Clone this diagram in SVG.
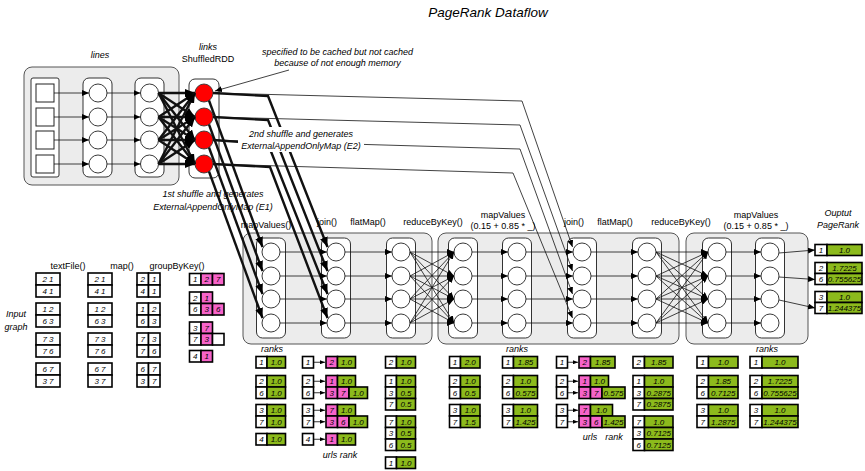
<svg xmlns="http://www.w3.org/2000/svg" width="865" height="471" viewBox="0 0 865 471">
<style>
text{font-family:"Liberation Sans",Arial,Helvetica,sans-serif;font-size:9px;fill:#000}
.i{font-style:italic}
.m{text-anchor:middle}
.panel{fill:#ececec;stroke:#555;stroke-width:1}
.col{fill:#fff;stroke:#333;stroke-width:1}
.nd{fill:#fff;stroke:#222;stroke-width:0.9}
.red{fill:#ff0000;stroke:#333;stroke-width:0.9}
.sq{fill:#fff;stroke:#222;stroke-width:1}
.c line,.c path{stroke:#111;fill:none}
.thin{stroke-width:0.8;marker-end:url(#ah)}
.thick{stroke-width:2.4;marker-end:url(#ahb)}
.tk{stroke-width:2.4}
.tn{stroke-width:0.8}
.tb rect{stroke:#000;stroke-width:1.6}
.w{fill:#fff}
.p{fill:#f763c9}
.g{fill:#8cba1c}
.tb text{font-size:8px;font-style:italic;text-anchor:middle}
.ta{stroke:#000;stroke-width:0.8;marker-end:url(#ahs)}
</style>
<defs>
<marker id="ah" markerUnits="userSpaceOnUse" markerWidth="7" markerHeight="6" refX="7" refY="3" orient="auto"><path d="M0,0 L7,3 L0,6 z" fill="#000"/></marker>
<marker id="ahb" markerUnits="userSpaceOnUse" markerWidth="10" markerHeight="8" refX="10" refY="4" orient="auto"><path d="M0,0 L10,4 L0,8 z" fill="#000"/></marker>
<marker id="ahs" markerUnits="userSpaceOnUse" markerWidth="5" markerHeight="4" refX="5" refY="2" orient="auto"><path d="M0,0 L5,2 L0,4 z" fill="#000"/></marker>
</defs>
<rect width="865" height="471" fill="#fff"/>

<text x="488" y="17" class="i m" style="font-size:13.5px">PageRank Dataflow</text>

<!-- lines stage -->
<g id="lines">
<rect x="24" y="67" width="155" height="118" rx="8" class="panel"/>
<rect x="31" y="78" width="28" height="99" rx="2" class="col"/>
<rect x="36" y="84" width="18" height="18" class="sq"/>
<rect x="36" y="108" width="18" height="18" class="sq"/>
<rect x="36" y="131" width="18" height="18" class="sq"/>
<rect x="36" y="155" width="18" height="18" class="sq"/>
<rect x="83" y="78" width="29" height="99" rx="6" class="col"/>
<circle cx="98" cy="93" r="9" class="nd"/><circle cx="98" cy="117" r="9" class="nd"/><circle cx="98" cy="140" r="9" class="nd"/><circle cx="98" cy="164" r="9" class="nd"/>
<rect x="135" y="78" width="29" height="99" rx="6" class="col"/>
<circle cx="149.5" cy="93" r="9" class="nd"/><circle cx="149.5" cy="117" r="9" class="nd"/><circle cx="149.5" cy="140" r="9" class="nd"/><circle cx="149.5" cy="164" r="9" class="nd"/>
<text x="100" y="58" class="i m">lines</text>
</g>
<g id="links">
<rect x="189" y="79" width="30" height="99" rx="6" class="col"/>
<circle cx="204" cy="93" r="9" class="red"/><circle cx="204" cy="117" r="9" class="red"/><circle cx="204" cy="140" r="9" class="red"/><circle cx="204" cy="164" r="9" class="red"/>
<text x="208" y="50" class="i m">links</text>
<text x="208" y="62" class="m">ShuffledRDD</text>
</g>

<!-- stage panels -->
<g id="stage1"><rect x="243" y="233" width="189" height="111" rx="8" class="panel"/></g>
<g id="stage2"><rect x="438" y="233" width="241" height="111" rx="8" class="panel"/></g>
<g id="stage3"><rect x="686" y="233" width="122" height="111" rx="8" class="panel"/></g>

<g id="mapValues1"><rect x="256.5" y="238" width="29" height="100" rx="6" class="col"/>
<circle cx="271" cy="252" r="9" class="nd"/><circle cx="271" cy="276" r="9" class="nd"/><circle cx="271" cy="299" r="9" class="nd"/><circle cx="271" cy="323" r="9" class="nd"/></g>
<g id="join1"><rect x="321.5" y="238" width="29" height="100" rx="6" class="col"/>
<circle cx="336" cy="252" r="9" class="nd"/><circle cx="336" cy="276" r="9" class="nd"/><circle cx="336" cy="299" r="9" class="nd"/><circle cx="336" cy="323" r="9" class="nd"/></g>
<g id="flatMap1"><rect x="386.5" y="238" width="29" height="100" rx="6" class="col"/>
<circle cx="401" cy="252" r="9" class="nd"/><circle cx="401" cy="276" r="9" class="nd"/><circle cx="401" cy="299" r="9" class="nd"/><circle cx="401" cy="323" r="9" class="nd"/></g>
<g id="reduceByKey1"><rect x="448.5" y="238" width="29" height="100" rx="6" class="col"/>
<circle cx="463" cy="252" r="9" class="nd"/><circle cx="463" cy="276" r="9" class="nd"/><circle cx="463" cy="299" r="9" class="nd"/><circle cx="463" cy="323" r="9" class="nd"/></g>
<g id="mapValues2"><rect x="502.5" y="238" width="29" height="100" rx="6" class="col"/>
<circle cx="517" cy="252" r="9" class="nd"/><circle cx="517" cy="276" r="9" class="nd"/><circle cx="517" cy="299" r="9" class="nd"/><circle cx="517" cy="323" r="9" class="nd"/></g>
<g id="join2"><rect x="567.5" y="238" width="29" height="100" rx="6" class="col"/>
<circle cx="582" cy="252" r="9" class="nd"/><circle cx="582" cy="276" r="9" class="nd"/><circle cx="582" cy="299" r="9" class="nd"/><circle cx="582" cy="323" r="9" class="nd"/></g>
<g id="flatMap2"><rect x="632.5" y="238" width="29" height="100" rx="6" class="col"/>
<circle cx="647" cy="252" r="9" class="nd"/><circle cx="647" cy="276" r="9" class="nd"/><circle cx="647" cy="299" r="9" class="nd"/><circle cx="647" cy="323" r="9" class="nd"/></g>
<g id="reduceByKey2"><rect x="702.5" y="238" width="29" height="100" rx="6" class="col"/>
<circle cx="717" cy="252" r="9" class="nd"/><circle cx="717" cy="276" r="9" class="nd"/><circle cx="717" cy="299" r="9" class="nd"/><circle cx="717" cy="323" r="9" class="nd"/></g>
<g id="mapValues3"><rect x="755.5" y="238" width="29" height="100" rx="6" class="col"/>
<circle cx="770" cy="252" r="9" class="nd"/><circle cx="770" cy="276" r="9" class="nd"/><circle cx="770" cy="299" r="9" class="nd"/><circle cx="770" cy="323" r="9" class="nd"/></g>

<!-- connectors -->
<g id="connectors" class="c">
<line x1="54" y1="93" x2="89" y2="93" class="thin"/><line x1="54" y1="117" x2="89" y2="117" class="thin"/><line x1="54" y1="140" x2="89" y2="140" class="thin"/><line x1="54" y1="164" x2="89" y2="164" class="thin"/>
<line x1="107" y1="93" x2="140.5" y2="93" class="thin"/><line x1="107" y1="117" x2="140.5" y2="117" class="thin"/><line x1="107" y1="140" x2="140.5" y2="140" class="thin"/><line x1="107" y1="164" x2="140.5" y2="164" class="thin"/>
<line x1="158.5" y1="93" x2="195" y2="93" class="thick"/><line x1="158.5" y1="93" x2="195" y2="117" class="thick"/><line x1="158.5" y1="93" x2="195" y2="140" class="thick"/><line x1="158.5" y1="93" x2="195" y2="164" class="thick"/>
<line x1="158.5" y1="117" x2="195" y2="93" class="thick"/><line x1="158.5" y1="117" x2="195" y2="117" class="thick"/><line x1="158.5" y1="117" x2="195" y2="140" class="thick"/><line x1="158.5" y1="117" x2="195" y2="164" class="thick"/>
<line x1="158.5" y1="140" x2="195" y2="93" class="thick"/><line x1="158.5" y1="140" x2="195" y2="117" class="thick"/><line x1="158.5" y1="140" x2="195" y2="140" class="thick"/><line x1="158.5" y1="140" x2="195" y2="164" class="thick"/>
<line x1="158.5" y1="164" x2="195" y2="93" class="thick"/><line x1="158.5" y1="164" x2="195" y2="117" class="thick"/><line x1="158.5" y1="164" x2="195" y2="140" class="thick"/><line x1="158.5" y1="164" x2="195" y2="164" class="thick"/>

<path d="M289,70 L215,91" class="thin"/>

<path d="M213,93 L522,101 L572.5,247" class="thin"/>
<path d="M213,117 L520,125 L572.5,271" class="thin"/>
<path d="M213,140 L520,149 L572.5,294" class="thin"/>
<path d="M213,164 L513,173 L572.5,318" class="thin"/>

<path d="M209,100.5 L262.5,247" class="thick"/>
<path d="M209,124.5 L262.5,271" class="thick"/>
<path d="M209,147.5 L262.5,294" class="thick"/>
<path d="M209,171.5 L262.5,318" class="thick"/>

<path d="M213,93 L268,96 L327.5,247" class="thick"/>
<path d="M213,117 L268,120 L327.5,271" class="thick"/>
<path d="M213,140 L268,144 L327.5,294" class="thick"/>
<path d="M213,164 L270,167 L327.5,318" class="thick"/>

<line x1="280" y1="252" x2="327" y2="252" class="thin"/><line x1="280" y1="276" x2="327" y2="276" class="thin"/><line x1="280" y1="299" x2="327" y2="299" class="thin"/><line x1="280" y1="323" x2="327" y2="323" class="thin"/>
<line x1="345" y1="252" x2="392" y2="252" class="thin"/><line x1="345" y1="276" x2="392" y2="276" class="thin"/><line x1="345" y1="299" x2="392" y2="299" class="thin"/><line x1="345" y1="323" x2="392" y2="323" class="thin"/>
<line x1="410" y1="252" x2="454" y2="252" class="thin"/><line x1="410" y1="252" x2="454" y2="276" class="thin"/><line x1="410" y1="252" x2="454" y2="299" class="thin"/><line x1="410" y1="252" x2="454" y2="323" class="thin"/>
<line x1="410" y1="276" x2="454" y2="252" class="thin"/><line x1="410" y1="276" x2="454" y2="276" class="thin"/><line x1="410" y1="276" x2="454" y2="299" class="thin"/><line x1="410" y1="276" x2="454" y2="323" class="thin"/>
<line x1="410" y1="299" x2="454" y2="252" class="thin"/><line x1="410" y1="299" x2="454" y2="276" class="thin"/><line x1="410" y1="299" x2="454" y2="299" class="thin"/><line x1="410" y1="299" x2="454" y2="323" class="thin"/>
<line x1="410" y1="323" x2="454" y2="252" class="thin"/><line x1="410" y1="323" x2="454" y2="276" class="thin"/><line x1="410" y1="323" x2="454" y2="299" class="thin"/><line x1="410" y1="323" x2="454" y2="323" class="thin"/>
<line x1="472" y1="252" x2="508" y2="252" class="thin"/><line x1="472" y1="276" x2="508" y2="276" class="thin"/><line x1="472" y1="299" x2="508" y2="299" class="thin"/><line x1="472" y1="323" x2="508" y2="323" class="thin"/>
<line x1="526" y1="252" x2="573" y2="252" class="thin"/><line x1="526" y1="276" x2="573" y2="276" class="thin"/><line x1="526" y1="299" x2="573" y2="299" class="thin"/><line x1="526" y1="323" x2="573" y2="323" class="thin"/>
<line x1="591" y1="252" x2="638" y2="252" class="thin"/><line x1="591" y1="276" x2="638" y2="276" class="thin"/><line x1="591" y1="299" x2="638" y2="299" class="thin"/><line x1="591" y1="323" x2="638" y2="323" class="thin"/>
<line x1="656" y1="252" x2="708" y2="252" class="thin"/><line x1="656" y1="252" x2="708" y2="276" class="thin"/><line x1="656" y1="252" x2="708" y2="299" class="thin"/><line x1="656" y1="252" x2="708" y2="323" class="thin"/>
<line x1="656" y1="276" x2="708" y2="252" class="thin"/><line x1="656" y1="276" x2="708" y2="276" class="thin"/><line x1="656" y1="276" x2="708" y2="299" class="thin"/><line x1="656" y1="276" x2="708" y2="323" class="thin"/>
<line x1="656" y1="299" x2="708" y2="252" class="thin"/><line x1="656" y1="299" x2="708" y2="276" class="thin"/><line x1="656" y1="299" x2="708" y2="299" class="thin"/><line x1="656" y1="299" x2="708" y2="323" class="thin"/>
<line x1="656" y1="323" x2="708" y2="252" class="thin"/><line x1="656" y1="323" x2="708" y2="276" class="thin"/><line x1="656" y1="323" x2="708" y2="299" class="thin"/><line x1="656" y1="323" x2="708" y2="323" class="thin"/>
<line x1="726" y1="252" x2="761" y2="252" class="thin"/><line x1="726" y1="276" x2="761" y2="276" class="thin"/><line x1="726" y1="299" x2="761" y2="299" class="thin"/><line x1="726" y1="323" x2="761" y2="323" class="thin"/>
<line x1="779" y1="253" x2="815" y2="250" class="thin"/>
<line x1="779" y1="277" x2="815" y2="279.5" class="thin"/>
<line x1="779" y1="300" x2="815" y2="308" class="thin"/>
</g>

<!-- labels -->
<g id="label-cache">
<text x="337.5" y="55" class="i m">specified to be cached but not cached</text>
<text x="337.5" y="66" class="i m">because of not enough memory</text>
</g>
<g id="label-e2">
<rect x="238" y="127" width="126" height="25" fill="#fff"/>
<text x="301" y="137" class="i m">2nd shuffle and generates</text>
<text x="301" y="149" class="i m">ExternalAppendOnlyMap (E2)</text>
</g>
<g id="label-e1">
<text x="213" y="197" class="i m">1st shuffle and generates</text>
<text x="213" y="210" class="i m">ExternalAppendOnlyMap (E1)</text>
</g>
<g id="headers">
<text x="266" y="228" class="m">mapValues()</text>
<text x="327" y="225" class="m">join()</text>
<text x="368" y="225" class="m">flatMap()</text>
<text x="433" y="225" class="m">reduceByKey()</text>
<text x="503" y="218" class="m">mapValues</text>
<text x="503" y="229" class="m">(0.15 + 0.85 * _)</text>
<text x="574" y="225" class="m">join()</text>
<text x="615" y="225" class="m">flatMap()</text>
<text x="681" y="225" class="m">reduceByKey()</text>
<text x="756" y="218" class="m">mapValues</text>
<text x="756" y="229" class="m">(0.15 + 0.85 * _)</text>
<text x="838" y="216" class="i m">Ouptut</text>
<text x="838" y="228" class="i m">PageRank</text>
<text x="68" y="269" class="m">textFile()</text>
<text x="122" y="269" class="m">map()</text>
<text x="177" y="269" class="m">groupByKey()</text>
<text x="16" y="317" class="i m">Input</text>
<text x="16" y="330" class="i m">graph</text>
<text x="272" y="352" class="i m">ranks</text>
<text x="517" y="352" class="i m">ranks</text>
<text x="767" y="352" class="i m">ranks</text>
<text x="340" y="458" class="i m">urls rank</text>
<text x="590" y="440" class="i m">urls</text>
<text x="614" y="440" class="i m">rank</text>
</g>

<!-- input tables -->
<g id="textFile-tables" class="tb">
<rect x="36" y="273" width="24" height="12" class="w"/><text x="48" y="281.8">2 1</text>
<rect x="36" y="285" width="24" height="12" class="w"/><text x="48" y="293.8">4 1</text>
<rect x="36" y="303" width="24" height="12" class="w"/><text x="48" y="311.8">1 2</text>
<rect x="36" y="315" width="24" height="12" class="w"/><text x="48" y="323.8">6 3</text>
<rect x="36" y="333" width="24" height="12" class="w"/><text x="48" y="341.8">7 3</text>
<rect x="36" y="345" width="24" height="12" class="w"/><text x="48" y="353.8">7 6</text>
<rect x="36" y="363" width="24" height="12" class="w"/><text x="48" y="371.8">6 7</text>
<rect x="36" y="375" width="24" height="12" class="w"/><text x="48" y="383.8">3 7</text>
</g>
<g id="map-tables" class="tb">
<rect x="88" y="273" width="24" height="12" class="w"/><text x="100" y="281.8">2 1</text>
<rect x="88" y="285" width="24" height="12" class="w"/><text x="100" y="293.8">4 1</text>
<rect x="88" y="303" width="24" height="12" class="w"/><text x="100" y="311.8">1 2</text>
<rect x="88" y="315" width="24" height="12" class="w"/><text x="100" y="323.8">6 3</text>
<rect x="88" y="333" width="24" height="12" class="w"/><text x="100" y="341.8">7 3</text>
<rect x="88" y="345" width="24" height="12" class="w"/><text x="100" y="353.8">7 6</text>
<rect x="88" y="363" width="24" height="12" class="w"/><text x="100" y="371.8">6 7</text>
<rect x="88" y="375" width="24" height="12" class="w"/><text x="100" y="383.8">3 7</text>
</g>
<g id="groupByKey-in" class="tb">
<rect x="137" y="273" width="11.5" height="12" class="w"/><rect x="148.5" y="273" width="11.5" height="12" class="w"/><text x="142.75" y="281.8">2</text><text x="154.25" y="281.8">1</text>
<rect x="137" y="285" width="11.5" height="12" class="w"/><rect x="148.5" y="285" width="11.5" height="12" class="w"/><text x="142.75" y="293.8">4</text><text x="154.25" y="293.8">1</text>
<rect x="137" y="303" width="11.5" height="12" class="w"/><rect x="148.5" y="303" width="11.5" height="12" class="w"/><text x="142.75" y="311.8">1</text><text x="154.25" y="311.8">2</text>
<rect x="137" y="315" width="11.5" height="12" class="w"/><rect x="148.5" y="315" width="11.5" height="12" class="w"/><text x="142.75" y="323.8">6</text><text x="154.25" y="323.8">3</text>
<rect x="137" y="333" width="11.5" height="12" class="w"/><rect x="148.5" y="333" width="11.5" height="12" class="w"/><text x="142.75" y="341.8">7</text><text x="154.25" y="341.8">3</text>
<rect x="137" y="345" width="11.5" height="12" class="w"/><rect x="148.5" y="345" width="11.5" height="12" class="w"/><text x="142.75" y="353.8">7</text><text x="154.25" y="353.8">6</text>
<rect x="137" y="363" width="11.5" height="12" class="w"/><rect x="148.5" y="363" width="11.5" height="12" class="w"/><text x="142.75" y="371.8">6</text><text x="154.25" y="371.8">7</text>
<rect x="137" y="375" width="11.5" height="12" class="w"/><rect x="148.5" y="375" width="11.5" height="12" class="w"/><text x="142.75" y="383.8">3</text><text x="154.25" y="383.8">7</text>
</g>
<g id="groupByKey-out" class="tb">
<rect x="189.5" y="273.5" width="11.5" height="11.5" class="w"/><rect x="201" y="273.5" width="11.5" height="11.5" class="p"/><rect x="212.5" y="273.5" width="11.5" height="11.5" class="p"/>
<text x="195.25" y="282">1</text><text x="206.75" y="282">2</text><text x="218.25" y="282">7</text>
<rect x="189.5" y="292" width="11.5" height="11.5" class="w"/><rect x="201" y="292" width="11.5" height="11.5" class="p"/>
<text x="195.25" y="300.5">2</text><text x="206.75" y="300.5">1</text>
<rect x="189.5" y="303.5" width="11.5" height="11.5" class="w"/><rect x="201" y="303.5" width="11.5" height="11.5" class="p"/><rect x="212.5" y="303.5" width="11.5" height="11.5" class="p"/>
<text x="195.25" y="312">6</text><text x="206.75" y="312">3</text><text x="218.25" y="312">6</text>
<rect x="189.5" y="322" width="11.5" height="11.5" class="w"/><rect x="201" y="322" width="11.5" height="11.5" class="p"/>
<text x="195.25" y="330.5">3</text><text x="206.75" y="330.5">7</text>
<rect x="189.5" y="333.5" width="11.5" height="11.5" class="w"/><rect x="201" y="333.5" width="11.5" height="11.5" class="p"/><rect x="212.5" y="333.5" width="11.5" height="11.5" class="w"/>
<text x="195.25" y="342">7</text><text x="206.75" y="342">3</text>
<rect x="189.5" y="350.5" width="11.5" height="11.5" class="w"/><rect x="201" y="350.5" width="11.5" height="11.5" class="p"/>
<text x="195.25" y="359">4</text><text x="206.75" y="359">1</text>
</g>

<!-- ranks 1 -->
<g id="ranks1" class="tb">
<rect x="256" y="356.5" width="11" height="11.5" class="w"/><rect x="267" y="356.5" width="18.5" height="11.5" class="g"/><text x="261.5" y="365">1</text><text x="276.25" y="365">1.0</text>
<rect x="256" y="375.5" width="11" height="11.5" class="w"/><rect x="267" y="375.5" width="18.5" height="11.5" class="g"/><text x="261.5" y="384">2</text><text x="276.25" y="384">1.0</text>
<rect x="256" y="387" width="11" height="11.5" class="w"/><rect x="267" y="387" width="18.5" height="11.5" class="g"/><text x="261.5" y="395.5">6</text><text x="276.25" y="395.5">1.0</text>
<rect x="256" y="404.5" width="11" height="11.5" class="w"/><rect x="267" y="404.5" width="18.5" height="11.5" class="g"/><text x="261.5" y="413">3</text><text x="276.25" y="413">1.0</text>
<rect x="256" y="416" width="11" height="11.5" class="w"/><rect x="267" y="416" width="18.5" height="11.5" class="g"/><text x="261.5" y="424.5">7</text><text x="276.25" y="424.5">1.0</text>
<rect x="256" y="433.5" width="11" height="11.5" class="w"/><rect x="267" y="433.5" width="18.5" height="11.5" class="g"/><text x="261.5" y="442">4</text><text x="276.25" y="442">1.0</text>
</g>
<!-- join 1 -->
<g id="join1-tables" class="tb">
<rect x="302.5" y="356.5" width="11" height="11.5" class="w"/><text x="308" y="365">1</text>
<rect x="326" y="356.5" width="11.5" height="11.5" class="p"/><rect x="337.5" y="356.5" width="18" height="11.5" class="g"/><text x="331.75" y="365">2</text><text x="346.5" y="365">1.0</text>
<rect x="302.5" y="375.5" width="11" height="11.5" class="w"/><text x="308" y="384">2</text>
<rect x="302.5" y="387" width="11" height="11.5" class="w"/><text x="308" y="395.5">6</text>
<rect x="326" y="375.5" width="11.5" height="11.5" class="p"/><rect x="337.5" y="375.5" width="18" height="11.5" class="g"/><text x="331.75" y="384">1</text><text x="346.5" y="384">1.0</text>
<rect x="326" y="387" width="11.5" height="11.5" class="p"/><rect x="337.5" y="387" width="11.5" height="11.5" class="p"/><rect x="349" y="387" width="18.5" height="11.5" class="g"/><text x="331.75" y="395.5">3</text><text x="343.25" y="395.5">7</text><text x="358.25" y="395.5">1.0</text>
<rect x="302.5" y="404.5" width="11" height="11.5" class="w"/><text x="308" y="413">3</text>
<rect x="302.5" y="416" width="11" height="11.5" class="w"/><text x="308" y="424.5">7</text>
<rect x="326" y="404.5" width="11.5" height="11.5" class="p"/><rect x="337.5" y="404.5" width="18" height="11.5" class="g"/><text x="331.75" y="413">7</text><text x="346.5" y="413">1.0</text>
<rect x="326" y="416" width="11.5" height="11.5" class="p"/><rect x="337.5" y="416" width="11.5" height="11.5" class="p"/><rect x="349" y="416" width="18.5" height="11.5" class="g"/><text x="331.75" y="424.5">3</text><text x="343.25" y="424.5">6</text><text x="358.25" y="424.5">1.0</text>
<rect x="302.5" y="433.5" width="11" height="11.5" class="w"/><text x="308" y="442">4</text>
<rect x="326" y="433.5" width="11.5" height="11.5" class="p"/><rect x="337.5" y="433.5" width="18" height="11.5" class="g"/><text x="331.75" y="442">1</text><text x="346.5" y="442">1.0</text>
<line x1="314" y1="362.25" x2="325" y2="362.25" class="ta"/>
<line x1="314" y1="381.25" x2="325" y2="381.25" class="ta"/>
<line x1="314" y1="392.75" x2="325" y2="392.75" class="ta"/>
<line x1="314" y1="410.25" x2="325" y2="410.25" class="ta"/>
<line x1="314" y1="421.75" x2="325" y2="421.75" class="ta"/>
<line x1="314" y1="439.25" x2="325" y2="439.25" class="ta"/>
</g>
<!-- flatMap 1 -->
<g id="flatMap1-tables" class="tb">
<rect x="385.5" y="356.5" width="11" height="11.5" class="w"/><rect x="396.5" y="356.5" width="19" height="11.5" class="g"/><text x="391" y="365">2</text><text x="406" y="365">1.0</text>
<rect x="385.5" y="375.5" width="11" height="11.5" class="w"/><rect x="396.5" y="375.5" width="19" height="11.5" class="g"/><text x="391" y="384">1</text><text x="406" y="384">1.0</text>
<rect x="385.5" y="387" width="11" height="11.5" class="w"/><rect x="396.5" y="387" width="19" height="11.5" class="g"/><text x="391" y="395.5">3</text><text x="406" y="395.5">0.5</text>
<rect x="385.5" y="398.5" width="11" height="11.5" class="w"/><rect x="396.5" y="398.5" width="19" height="11.5" class="g"/><text x="391" y="407">7</text><text x="406" y="407">0.5</text>
<rect x="385.5" y="416" width="11" height="11.5" class="w"/><rect x="396.5" y="416" width="19" height="11.5" class="g"/><text x="391" y="424.5">7</text><text x="406" y="424.5">1.0</text>
<rect x="385.5" y="427.5" width="11" height="11.5" class="w"/><rect x="396.5" y="427.5" width="19" height="11.5" class="g"/><text x="391" y="436">3</text><text x="406" y="436">0.5</text>
<rect x="385.5" y="439" width="11" height="11.5" class="w"/><rect x="396.5" y="439" width="19" height="11.5" class="g"/><text x="391" y="447.5">6</text><text x="406" y="447.5">0.5</text>
<rect x="385.5" y="457" width="11" height="11.5" class="w"/><rect x="396.5" y="457" width="19" height="11.5" class="g"/><text x="391" y="465.5">1</text><text x="406" y="465.5">1.0</text>
</g>
<!-- reduceByKey 1 -->
<g id="reduceByKey1-tables" class="tb">
<rect x="449.5" y="356.5" width="11" height="11.5" class="w"/><rect x="460.5" y="356.5" width="19.5" height="11.5" class="g"/><text x="455" y="365">1</text><text x="470.25" y="365">2.0</text>
<rect x="449.5" y="375.5" width="11" height="11.5" class="w"/><rect x="460.5" y="375.5" width="19.5" height="11.5" class="g"/><text x="455" y="384">2</text><text x="470.25" y="384">1.0</text>
<rect x="449.5" y="387" width="11" height="11.5" class="w"/><rect x="460.5" y="387" width="19.5" height="11.5" class="g"/><text x="455" y="395.5">6</text><text x="470.25" y="395.5">0.5</text>
<rect x="449.5" y="404.5" width="11" height="11.5" class="w"/><rect x="460.5" y="404.5" width="19.5" height="11.5" class="g"/><text x="455" y="413">3</text><text x="470.25" y="413">1.0</text>
<rect x="449.5" y="416" width="11" height="11.5" class="w"/><rect x="460.5" y="416" width="19.5" height="11.5" class="g"/><text x="455" y="424.5">7</text><text x="470.25" y="424.5">1.5</text>
</g>
<!-- ranks 2 -->
<g id="ranks2" class="tb">
<rect x="502.5" y="356.5" width="11" height="11.5" class="w"/><rect x="513.5" y="356.5" width="24" height="11.5" class="g"/><text x="508" y="365">1</text><text x="525.5" y="365">1.85</text>
<rect x="502.5" y="375.5" width="11" height="11.5" class="w"/><rect x="513.5" y="375.5" width="24" height="11.5" class="g"/><text x="508" y="384">2</text><text x="525.5" y="384">1.0</text>
<rect x="502.5" y="387" width="11" height="11.5" class="w"/><rect x="513.5" y="387" width="24" height="11.5" class="g"/><text x="508" y="395.5">6</text><text x="525.5" y="395.5">0.575</text>
<rect x="502.5" y="404.5" width="11" height="11.5" class="w"/><rect x="513.5" y="404.5" width="24" height="11.5" class="g"/><text x="508" y="413">3</text><text x="525.5" y="413">1.0</text>
<rect x="502.5" y="416" width="11" height="11.5" class="w"/><rect x="513.5" y="416" width="24" height="11.5" class="g"/><text x="508" y="424.5">7</text><text x="525.5" y="424.5">1.425</text>
</g>
<!-- join 2 -->
<g id="join2-tables" class="tb">
<rect x="556.5" y="356.5" width="11" height="11.5" class="w"/><text x="562" y="365">1</text>
<rect x="579" y="356.5" width="11.5" height="11.5" class="p"/><rect x="590.5" y="356.5" width="24.5" height="11.5" class="g"/><text x="584.75" y="365">2</text><text x="602.75" y="365">1.85</text>
<rect x="556.5" y="375.5" width="11" height="11.5" class="w"/><text x="562" y="384">2</text>
<rect x="556.5" y="387" width="11" height="11.5" class="w"/><text x="562" y="395.5">6</text>
<rect x="579" y="375.5" width="11.5" height="11.5" class="p"/><rect x="590.5" y="375.5" width="18" height="11.5" class="g"/><text x="584.75" y="384">1</text><text x="599.5" y="384">1.0</text>
<rect x="579" y="387" width="11.5" height="11.5" class="p"/><rect x="590.5" y="387" width="11.5" height="11.5" class="p"/><rect x="602" y="387" width="23" height="11.5" class="g"/><text x="584.75" y="395.5">3</text><text x="596.25" y="395.5">7</text><text x="613.5" y="395.5">0.575</text>
<rect x="556.5" y="404.5" width="11" height="11.5" class="w"/><text x="562" y="413">3</text>
<rect x="556.5" y="416" width="11" height="11.5" class="w"/><text x="562" y="424.5">7</text>
<rect x="579" y="404.5" width="11.5" height="11.5" class="p"/><rect x="590.5" y="404.5" width="22" height="11.5" class="g"/><text x="584.75" y="413">7</text><text x="601.5" y="413">1.0</text>
<rect x="579" y="416" width="11.5" height="11.5" class="p"/><rect x="590.5" y="416" width="11.5" height="11.5" class="p"/><rect x="602" y="416" width="23" height="11.5" class="g"/><text x="584.75" y="424.5">3</text><text x="596.25" y="424.5">6</text><text x="613.5" y="424.5">1.425</text>
<line x1="568" y1="362.25" x2="578" y2="362.25" class="ta"/>
<line x1="568" y1="381.25" x2="578" y2="381.25" class="ta"/>
<line x1="568" y1="392.75" x2="578" y2="392.75" class="ta"/>
<line x1="568" y1="410.25" x2="578" y2="410.25" class="ta"/>
<line x1="568" y1="421.75" x2="578" y2="421.75" class="ta"/>
</g>
<!-- flatMap 2 -->
<g id="flatMap2-tables" class="tb">
<rect x="633" y="356.5" width="11.5" height="11.5" class="w"/><rect x="644.5" y="356.5" width="28.5" height="11.5" class="g"/><text x="638.75" y="365">2</text><text x="658.75" y="365">1.85</text>
<rect x="633" y="375.5" width="11.5" height="11.5" class="w"/><rect x="644.5" y="375.5" width="28.5" height="11.5" class="g"/><text x="638.75" y="384">1</text><text x="658.75" y="384">1.0</text>
<rect x="633" y="387" width="11.5" height="11.5" class="w"/><rect x="644.5" y="387" width="28.5" height="11.5" class="g"/><text x="638.75" y="395.5">3</text><text x="658.75" y="395.5">0.2875</text>
<rect x="633" y="398.5" width="11.5" height="11.5" class="w"/><rect x="644.5" y="398.5" width="28.5" height="11.5" class="g"/><text x="638.75" y="407">7</text><text x="658.75" y="407">0.2875</text>
<rect x="633" y="416" width="11.5" height="11.5" class="w"/><rect x="644.5" y="416" width="28.5" height="11.5" class="g"/><text x="638.75" y="424.5">7</text><text x="658.75" y="424.5">1.0</text>
<rect x="633" y="427.5" width="11.5" height="11.5" class="w"/><rect x="644.5" y="427.5" width="28.5" height="11.5" class="g"/><text x="638.75" y="436">3</text><text x="658.75" y="436">0.7125</text>
<rect x="633" y="439" width="11.5" height="11.5" class="w"/><rect x="644.5" y="439" width="28.5" height="11.5" class="g"/><text x="638.75" y="447.5">6</text><text x="658.75" y="447.5">0.7125</text>
</g>
<!-- reduceByKey 2 -->
<g id="reduceByKey2-tables" class="tb">
<rect x="697" y="356.5" width="11.5" height="11.5" class="w"/><rect x="708.5" y="356.5" width="29.5" height="11.5" class="g"/><text x="702.75" y="365">1</text><text x="723.25" y="365">1.0</text>
<rect x="697" y="375.5" width="11.5" height="11.5" class="w"/><rect x="708.5" y="375.5" width="29.5" height="11.5" class="g"/><text x="702.75" y="384">2</text><text x="723.25" y="384">1.85</text>
<rect x="697" y="387" width="11.5" height="11.5" class="w"/><rect x="708.5" y="387" width="29.5" height="11.5" class="g"/><text x="702.75" y="395.5">6</text><text x="723.25" y="395.5">0.7125</text>
<rect x="697" y="404.5" width="11.5" height="11.5" class="w"/><rect x="708.5" y="404.5" width="29.5" height="11.5" class="g"/><text x="702.75" y="413">3</text><text x="723.25" y="413">1.0</text>
<rect x="697" y="416" width="11.5" height="11.5" class="w"/><rect x="708.5" y="416" width="29.5" height="11.5" class="g"/><text x="702.75" y="424.5">7</text><text x="723.25" y="424.5">1.2875</text>
</g>
<!-- ranks 3 -->
<g id="ranks3" class="tb">
<rect x="750" y="356.5" width="12" height="11.5" class="w"/><rect x="762" y="356.5" width="36" height="11.5" class="g"/><text x="756" y="365">1</text><text x="780" y="365">1.0</text>
<rect x="750" y="375.5" width="12" height="11.5" class="w"/><rect x="762" y="375.5" width="36" height="11.5" class="g"/><text x="756" y="384">2</text><text x="780" y="384">1.7225</text>
<rect x="750" y="387" width="12" height="11.5" class="w"/><rect x="762" y="387" width="36" height="11.5" class="g"/><text x="756" y="395.5">6</text><text x="780" y="395.5">0.755625</text>
<rect x="750" y="404.5" width="12" height="11.5" class="w"/><rect x="762" y="404.5" width="36" height="11.5" class="g"/><text x="756" y="413">3</text><text x="780" y="413">1.0</text>
<rect x="750" y="416" width="12" height="11.5" class="w"/><rect x="762" y="416" width="36" height="11.5" class="g"/><text x="756" y="424.5">7</text><text x="780" y="424.5">1.244375</text>
</g>
<!-- output -->
<g id="output" class="tb">
<rect x="815" y="244.5" width="12" height="11" class="w"/><rect x="827" y="244.5" width="35" height="11" class="g"/><text x="821" y="252.7">1</text><text x="844.5" y="252.7">1.0</text>
<rect x="815" y="262.5" width="12" height="11" class="w"/><rect x="827" y="262.5" width="35" height="11" class="g"/><text x="821" y="270.7">2</text><text x="844.5" y="270.7">1.7225</text>
<rect x="815" y="273.5" width="12" height="11" class="w"/><rect x="827" y="273.5" width="35" height="11" class="g"/><text x="821" y="281.7">6</text><text x="844.5" y="281.7">0.755625</text>
<rect x="815" y="291.5" width="12" height="11" class="w"/><rect x="827" y="291.5" width="35" height="11" class="g"/><text x="821" y="299.7">3</text><text x="844.5" y="299.7">1.0</text>
<rect x="815" y="302.5" width="12" height="11" class="w"/><rect x="827" y="302.5" width="35" height="11" class="g"/><text x="821" y="310.7">7</text><text x="844.5" y="310.7">1.244375</text>
</g>
</svg>
